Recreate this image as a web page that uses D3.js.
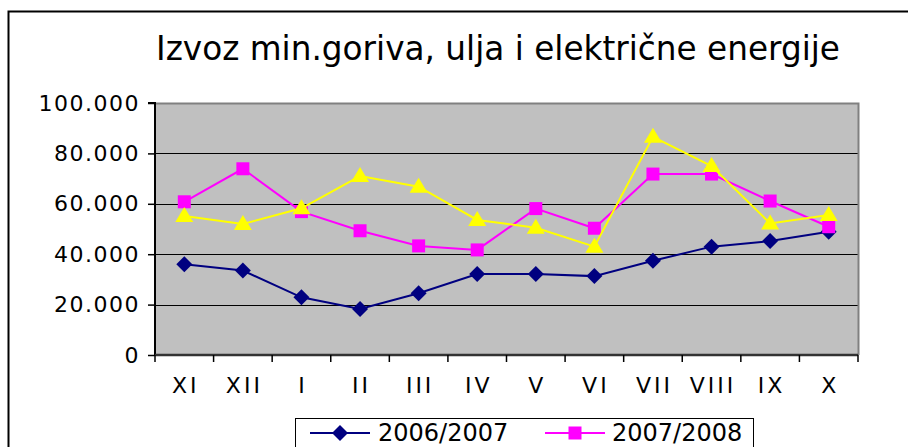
<!DOCTYPE html>
<html><head><meta charset="utf-8">
<script src="https://cdn.jsdelivr.net/npm/d3@7"></script>
<style>body{margin:0;background:#fff}svg{display:block}</style>
</head><body>
<script>
const categories = ["XI","XII","I","II","III","IV","V","VI","VII","VIII","IX","X"];
const s2006 = [36000,33500,22900,18300,24500,32100,32100,31300,37400,43000,45200,48900];
const s2007 = [60800,73900,56900,49300,43300,41700,58100,50300,71800,71800,61100,50900];
const s3 = [55200,52000,58200,71000,66800,53600,50500,43000,86600,75000,52200,55600];
const yTicks = [0,20000,40000,60000,80000,100000];
const tickLabels = ["0","20.000","40.000","60.000","80.000","100.000"];
const title = "Izvoz min.goriva, ulja i električne energije";

const W=908,H=447;
const svg=d3.select("body").append("svg").attr("width",W).attr("height",H);
svg.append("path").attr("d",`M8.5,${H+2}V11.5H${W+2}`).attr("fill","none").attr("stroke","#000").attr("stroke-width",2);

const L=155,R=858,T=103,B=355;
const x=d3.scaleBand().domain(categories).range([L,R]);
const y=d3.scaleLinear().domain([0,100000]).range([B,T]);

svg.append("rect").attr("x",L).attr("y",T).attr("width",R-L).attr("height",B-T).attr("fill","#c0c0c0");
svg.append("g").selectAll("line").data(yTicks.filter(d=>d>0&&d<100000)).join("line")
  .attr("x1",L).attr("x2",R).attr("y1",d=>Math.round(y(d))+0.5).attr("y2",d=>Math.round(y(d))+0.5)
  .attr("stroke","#000").attr("stroke-width",1);
svg.append("path").attr("d",`M${L},${T+0.5}H${R+0.5}V${B}`).attr("fill","none").attr("stroke","#808080").attr("stroke-width",2);

const yAxis=d3.axisLeft(y).tickValues(yTicks).tickFormat((d,i)=>tickLabels[i]).tickSize(7).tickPadding(8);
const gy=svg.append("g").attr("transform",`translate(${L},0)`).call(yAxis);
gy.select(".domain").attr("stroke","#000").attr("stroke-width",2).attr("d",`M-7,${T}H0V${B}`);
gy.selectAll(".tick line").attr("stroke","#000").attr("stroke-width",1.5);
gy.selectAll("text").attr("font-family","DejaVu Sans").attr("font-size",22).attr("fill","#000").attr("letter-spacing","1.5px");

const xAxis=d3.axisBottom(x).tickSize(0).tickPadding(22);
const gx=svg.append("g").attr("transform",`translate(0,${B})`).call(xAxis);
gx.select(".domain").attr("stroke","#333").attr("stroke-width",2.5).attr("d",`M${L},0H${R}`);
gx.selectAll("text").attr("font-family","DejaVu Sans").attr("font-size",22).attr("fill","#000").attr("letter-spacing","3px").attr("dx","1.5");
const bounds=categories.map(c=>x(c)).concat([R]);
gx.append("g").selectAll("line").data(bounds).join("line")
  .attr("x1",d=>d).attr("x2",d=>d).attr("y1",0).attr("y2",7).attr("stroke","#000").attr("stroke-width",1.5);

const cx=c=>x(c)+x.bandwidth()/2;
const line=d3.line().x((d,i)=>cx(categories[i])).y(d=>y(d));

const series=[
 {name:"2006/2007",values:s2006,color:"#000080",shape:"diamond"},
 {name:"2007/2008",values:s2007,color:"#ff00ff",shape:"square"},
 {name:"",values:s3,color:"#ffff00",shape:"triangle"}
];
function marker(sel,shape,color,px,py){
  if(shape==="diamond") sel.append("path").attr("d",`M${px},${py-8}L${px+8},${py}L${px},${py+8}L${px-8},${py}Z`).attr("fill",color);
  else if(shape==="square") sel.append("rect").attr("x",px-6.5).attr("y",py-6.5).attr("width",13).attr("height",13).attr("fill",color);
  else sel.append("path").attr("d",`M${px},${py-9}L${px+9},${py+6}L${px-9},${py+6}Z`).attr("fill",color);
}
series.forEach(s=>{
  const g=svg.append("g");
  g.append("path").attr("d",line(s.values)).attr("fill","none").attr("stroke",s.color).attr("stroke-width",2);
  s.values.forEach((v,i)=>marker(g,s.shape,s.color,cx(categories[i]),y(v)));
});

svg.append("text").attr("x",498).attr("y",60).attr("text-anchor","middle")
  .attr("font-family","DejaVu Sans").attr("font-size",34).attr("fill","#000")
  .attr("textLength",684).attr("lengthAdjust","spacingAndGlyphs").text(title);

const lg=svg.append("g");
lg.append("rect").attr("x",295.5).attr("y",418.5).attr("width",458).attr("height",40).attr("fill","#fff").attr("stroke","#000").attr("stroke-width",1);
const leg=[{s:series[0],x0:310,tx:378},{s:series[1],x0:545,tx:612}];
leg.forEach(e=>{
  lg.append("line").attr("x1",e.x0).attr("x2",e.x0+60).attr("y1",433).attr("y2",433).attr("stroke",e.s.color).attr("stroke-width",2);
  marker(lg,e.s.shape,e.s.color,e.x0+30,433);
  lg.append("text").attr("x",e.tx).attr("y",441).attr("font-family","DejaVu Sans").attr("font-size",24).attr("fill","#000").text(e.s.name);
});
</script>
</body></html>
